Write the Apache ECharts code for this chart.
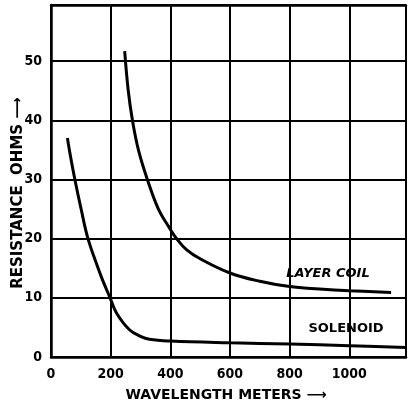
<!DOCTYPE html>
<html>
<head>
<meta charset="utf-8">
<script src="https://cdn.jsdelivr.net/npm/echarts@6/dist/echarts.min.js"></script>
<style>
html,body{margin:0;padding:0;background:#fff;}
#c{width:409px;height:408px;}
</style>
</head>
<body>
<div id="c"></div>
<script>
// Data
var layerWavelength = [247, 259, 273, 293, 323, 360, 395, 421, 455, 500, 600, 700, 800, 900, 1000, 1140];
var layerResistance = [51.7, 45, 40, 35, 30, 25, 22, 20, 18.1, 16.6, 14.2, 12.8, 11.9, 11.5, 11.2, 10.9];
var solenoidWavelength = [55, 65, 80, 101, 124, 158, 173, 198, 220, 263, 300, 330, 400, 600, 800, 1000, 1190];
var solenoidResistance = [37, 34, 30, 25, 20, 15, 13, 10, 7.4, 4.6, 3.5, 3.0, 2.7, 2.4, 2.2, 1.9, 1.6];
var xTicks = [0, 200, 400, 600, 800, 1000];
var yTicks = [0, 10, 20, 30, 40, 50];
var xName = 'WAVELENGTH METERS \u27F6';
var yName = 'RESISTANCE  OHMS \u27F6';
var layerLabel = 'LAYER COIL';
var solenoidLabel = 'SOLENOID';

function pairs(xs, ys){ return xs.map(function(x,i){ return [x, ys[i]]; }); }

var tickFont = {fontFamily:'DejaVu Sans Condensed', fontWeight:'bold', fontSize:14, color:'#000'};

var chart = echarts.init(document.getElementById('c'), null, {renderer:'canvas'});
chart.setOption({
  animation:false,
  backgroundColor:'#fff',
  grid:{left:51, right:1, top:5, bottom:51, containLabel:false},
  xAxis:[{
    type:'value', min:0, max:1190, interval:200,
    axisLine:{show:true, lineStyle:{color:'#000', width:2.5}},
    axisTick:{show:false},
    axisLabel:Object.assign({margin:10, formatter:function(v){ return xTicks.indexOf(v)>=0 ? String(v) : ''; }}, tickFont),
    splitLine:{show:true, lineStyle:{color:'#000', width:2}}
  },{
    type:'value', position:'top', min:0, max:1190,
    axisLine:{show:true, onZero:false, lineStyle:{color:'#000', width:2.5}},
    axisTick:{show:false}, axisLabel:{show:false}, splitLine:{show:false}
  }],
  yAxis:{
    type:'value', min:0, max:59.5, interval:10,
    axisLine:{show:true, lineStyle:{color:'#000', width:2.5}},
    axisTick:{show:false},
    axisLabel:Object.assign({margin:9, formatter:function(v){ return yTicks.indexOf(v)>=0 ? String(v) : ''; }}, tickFont),
    splitLine:{show:true, lineStyle:{color:'#000', width:2}}
  },
  series:[{
    type:'line', name:'Layer coil', data:pairs(layerWavelength, layerResistance),
    smooth:0.4, showSymbol:false, symbol:'none',
    lineStyle:{color:'#000', width:3}
  },{
    type:'line', name:'Solenoid', data:pairs(solenoidWavelength, solenoidResistance),
    smooth:0.4, showSymbol:false, symbol:'none',
    lineStyle:{color:'#000', width:3}
  }],
  graphic:[
    {type:'text', x:226, y:395, style:{text:xName, fill:'#000', font:'bold 14px "DejaVu Sans"', align:'center', verticalAlign:'middle'}},
    {type:'text', x:18, y:193, rotation:Math.PI/2, style:{text:yName, fill:'#000', font:'bold 15px "DejaVu Sans"', align:'center', verticalAlign:'middle'}},
    {type:'text', x:328, y:274, style:{text:layerLabel, fill:'#000', font:'italic bold 13px "DejaVu Sans"', align:'center', verticalAlign:'middle'}},
    {type:'text', x:346, y:329, style:{text:solenoidLabel, fill:'#000', font:'bold 13px "DejaVu Sans"', align:'center', verticalAlign:'middle'}}
  ]
});
</script>
</body>
</html>
